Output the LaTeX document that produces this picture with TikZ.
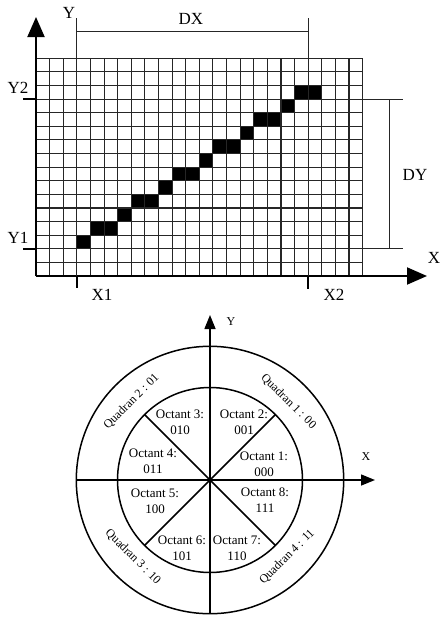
\documentclass[tikz,border=0pt]{standalone}
\usepackage{fontspec}
\setmainfont{Liberation Serif}
\usetikzlibrary{arrows.meta,calc}
\begin{document}
\begin{tikzpicture}[x=1pt,y=1pt,
  gridline/.style={line width=1.1pt, black!85},
  axis/.style={line width=1.9pt,-{Triangle[length=20pt,width=17pt]}},
  thinline/.style={line width=0.8pt, black!85},
  tick/.style={line width=1.9pt},
  biglabel/.style={font=\fontsize{17}{20}\selectfont, inner sep=0pt},
  oct/.style={font=\fontsize{13}{16}\selectfont, inner sep=0pt, align=center},
  quad/.style={font=\fontsize{12}{14}\selectfont, inner sep=0pt},
  ring/.style={line width=1.5pt},
  caxis/.style={line width=1.5pt,-{Triangle[length=14pt,width=11pt]}},
]
\useasboundingbox (0,0) rectangle (441,-619);
% ---------- raster grid ----------
\foreach \cx/\cy in {3/2,4/3,5/3,6/4,7/5,8/5,9/6,10/7,11/7,12/8,13/9,14/9,15/10,16/11,17/11,18/12,19/13,20/13}
  \fill (36+\cx*13.61,-276+\cy*13.61) rectangle ++(13.61,13.61);
\foreach \i in {0,...,24} \draw[gridline] (36+\i*13.61,-276) -- (36+\i*13.61,-58.3);
\foreach \j in {0,...,16} \draw[gridline] (36,-276+\j*13.61) -- (362.7,-276+\j*13.61);
\coordinate (O) at (36,-276);
\coordinate (ytip) at (36,-17);
\coordinate (xtip) at (427,-276);
\draw[axis] (O) -- (ytip);
\draw[axis] (O) -- (xtip);
% X1, X2 markers
\coordinate (x1top) at (76.83,-18);
\coordinate (x1bot) at (76.83,-288);
\coordinate (x1ax) at (76.83,-276);
\coordinate (x2top) at (308.2,-18);
\coordinate (x2bot) at (308.2,-289);
\coordinate (x2ax) at (308.2,-276);
\draw[thinline] (x1top) -- (x1ax);
\draw[thinline] (x2top) -- (x2ax);
\draw[tick] (x1ax) -- (x1bot);
\draw[tick] (x2ax) -- (x2bot);
\coordinate (dxl) at (76.83,-31.7);
\coordinate (dxr) at (308.2,-31.7);
\draw[thinline] (dxl) -- (dxr);
% Y1, Y2 markers
\coordinate (y2l) at (23,-99.07);
\coordinate (y2a) at (36,-99.07);
\coordinate (y1l) at (23,-248.78);
\coordinate (y1a) at (36,-248.78);
\draw[tick] (y2l) -- (y2a);
\draw[tick] (y1l) -- (y1a);
\coordinate (y2g) at (362.7,-99.07);
\coordinate (y2r) at (403,-99.07);
\coordinate (y1g) at (362.7,-248.78);
\coordinate (y1r) at (403,-248.78);
\draw[thinline] (y2g) -- (y2r);
\draw[thinline] (y1g) -- (y1r);
\coordinate (dyt) at (389.3,-99.07);
\coordinate (dyb) at (389.3,-248.78);
\draw[thinline] (dyt) -- (dyb);
% labels
\node[biglabel] (lY) at (69,-13) {Y};
\node[biglabel] (lDX) at (191,-19) {DX};
\node[biglabel] (lY2) at (18,-88) {Y2};
\node[biglabel] (lY1) at (18,-238) {Y1};
\node[biglabel] (lDY) at (415,-175) {DY};
\node[biglabel] (lX) at (434,-258) {X};
\node[biglabel] (lX1) at (102,-295) {X1};
\node[biglabel] (lX2) at (334,-295) {X2};
% ---------- octant circle ----------
\coordinate (C) at (210,-480);
\draw[ring] (C) circle (133.7);
\draw[ring] (C) circle (92.5);
\coordinate (cbot) at (210,-613.7);
\coordinate (ctop) at (210,-315);
\coordinate (cleft) at (76.3,-480);
\coordinate (cright) at (375,-480);
\draw[caxis] (cbot) -- (ctop);
\draw[caxis] (cleft) -- (cright);
\foreach \a in {45,135,225,315} \draw[ring] (C) -- ++(\a:92.5);
\node[quad] (cY) at (231,-322) {Y};
\node[quad] (cX) at (366,-457) {X};
\node[oct] (o3) at (180,-422) {Octant 3:\\010};
\node[oct] (o2) at (244,-422) {Octant 2:\\001};
\node[oct] (o4) at (153,-461) {Octant 4:\\011};
\node[oct] (o1) at (264,-464) {Octant 1:\\000};
\node[oct] (o5) at (155,-501) {Octant 5:\\100};
\node[oct] (o8) at (265,-500) {Octant 8:\\111};
\node[oct] (o6) at (182,-548) {Octant 6:\\101};
\node[oct] (o7) at (237,-548) {Octant 7:\\110};
\node[quad, rotate=-45] (q1) at ($(C)+(45:111)$) {Quadran 1 : 00};
\node[quad, rotate=45] (q2) at ($(C)+(135:111)$) {Quadran 2 : 01};
\node[quad, rotate=-45] (q3) at ($(C)+(225:109)$) {Quadran 3 : 10};
\node[quad, rotate=45] (q4) at ($(C)+(315:109)$) {Quadran 4 : 11};
\end{tikzpicture}
\end{document}
